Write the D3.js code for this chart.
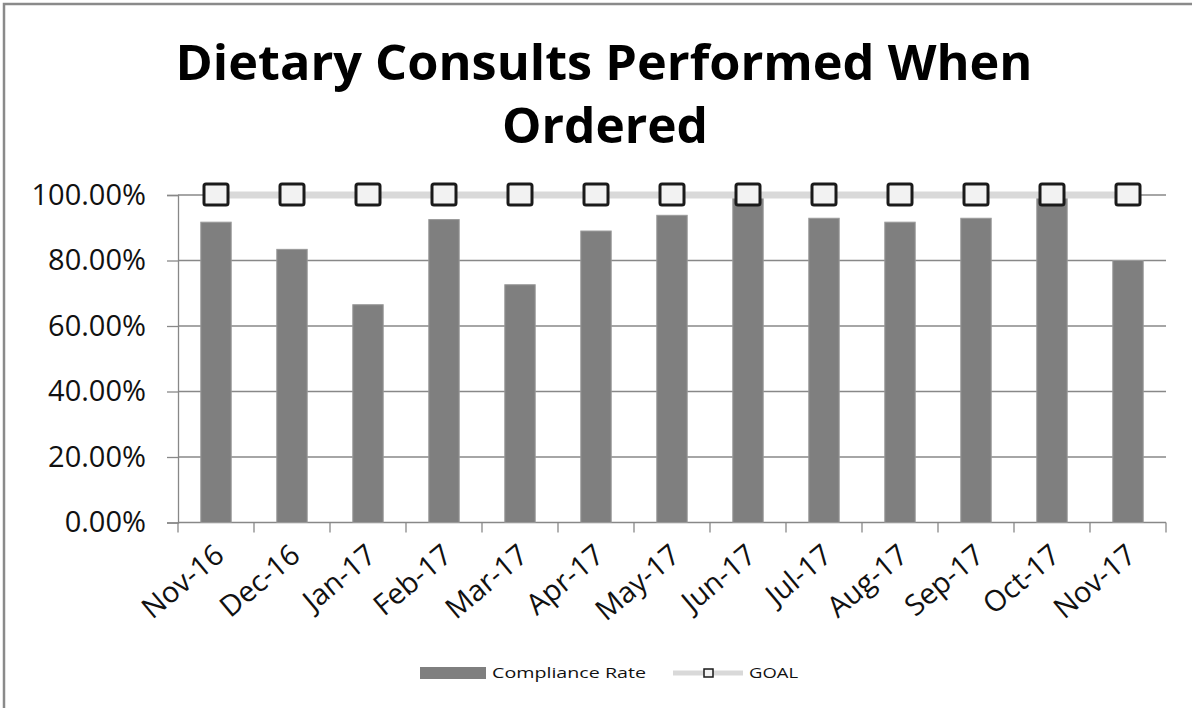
<!DOCTYPE html>
<html>
<head>
<meta charset="utf-8">
<script src="https://cdn.jsdelivr.net/npm/d3@7"></script>
<style>
  html, body { margin: 0; padding: 0; background: #fff; }
  svg { display: block; }
</style>
</head>
<body>
<svg id="chart" width="1192" height="708"></svg>
<script>
const categories = ["Nov-16","Dec-16","Jan-17","Feb-17","Mar-17","Apr-17","May-17","Jun-17","Jul-17","Aug-17","Sep-17","Oct-17","Nov-17"];
const complianceRate = [91.7, 83.4, 66.5, 92.5, 72.6, 89.0, 93.8, 100, 92.9, 91.7, 92.9, 100, 80.0];
const goal = [100, 100, 100, 100, 100, 100, 100, 100, 100, 100, 100, 100, 100];
const yTicks = [0, 20, 40, 60, 80, 100];
const titleLines = ["Dietary Consults Performed When", "Ordered"];
const seriesNames = ["Compliance Rate", "GOAL"];

const svg = d3.select("#chart");
const W = 1192, H = 708;
const plot = { left: 178, right: 1166, top: 195, bottom: 522.5 };

svg.append("rect").attr("x", 0).attr("y", 0).attr("width", W).attr("height", H).attr("fill", "#fff");
// outer chart border (only top/left visible)
svg.append("rect").attr("x", 4).attr("y", 4).attr("width", W + 20).attr("height", H + 20)
  .attr("fill", "none").attr("stroke", "#8a8a8a").attr("stroke-width", 2.5);

// title
const titleG = svg.append("g").attr("font-family", "'Open Sans', 'Noto Sans', sans-serif")
  .attr("font-weight", "bold").attr("fill", "#000").attr("text-anchor", "middle");
titleG.append("text").attr("x", 604).attr("y", 80).attr("font-size", 49)
  .attr("textLength", 857).attr("lengthAdjust", "spacingAndGlyphs").text(titleLines[0]);
titleG.append("text").attr("x", 605).attr("y", 143).attr("font-size", 49)
  .attr("textLength", 206).attr("lengthAdjust", "spacingAndGlyphs").text(titleLines[1]);

const x = d3.scaleBand().domain(categories).range([plot.left, plot.right]).paddingInner(0.6).paddingOuter(0.3);
const y = d3.scaleLinear().domain([0, 100]).range([plot.bottom, plot.top]);
const step = x.step();
const cx = d => x(d) + x.bandwidth() / 2;

// gridlines
svg.append("g").selectAll("line").data(yTicks).join("line")
  .attr("x1", plot.left).attr("x2", plot.right)
  .attr("y1", d => y(d)).attr("y2", d => y(d))
  .attr("stroke", "#888").attr("stroke-width", 1.3);

// y axis
const yAxis = svg.append("g").attr("transform", `translate(${plot.left},0)`)
  .call(d3.axisLeft(y).tickValues(yTicks).tickSize(11).tickPadding(21).tickFormat(d => d.toFixed(2) + "%"));
yAxis.select(".domain").attr("stroke", "#888").attr("stroke-width", 1.3);
yAxis.selectAll(".tick line").attr("stroke", "#888").attr("stroke-width", 1.3);
yAxis.selectAll("text").attr("font-family", "'Open Sans', 'Noto Sans', sans-serif")
  .attr("font-size", 29).attr("fill", "#111");

// x axis: tick marks at category boundaries
const boundaries = d3.range(categories.length + 1).map(i => plot.left + i * step);
svg.append("g").selectAll("line").data(boundaries).join("line")
  .attr("x1", d => d).attr("x2", d => d)
  .attr("y1", plot.bottom).attr("y2", plot.bottom + 10)
  .attr("stroke", "#888").attr("stroke-width", 1.3);

// x labels
svg.append("g").selectAll("text").data(categories).join("text")
  .attr("transform", d => `translate(${cx(d) - 4},${plot.bottom + 19}) rotate(-40)`)
  .attr("text-anchor", "end").attr("dy", "0.75em")
  .attr("font-family", "'Open Sans', 'Noto Sans', sans-serif").attr("font-size", 29).attr("fill", "#111")
  .text(d => d);

// bars
svg.append("g").selectAll("rect").data(categories).join("rect")
  .attr("x", d => x(d)).attr("width", x.bandwidth())
  .attr("y", (d, i) => y(complianceRate[i]))
  .attr("height", (d, i) => y(0) - y(complianceRate[i]))
  .attr("fill", "#7f7f7f").attr("stroke", "#9a9a9a").attr("stroke-width", 1);

// goal line
const line = d3.line().x((d, i) => cx(categories[i])).y(d => y(d));
svg.append("path").datum(goal).attr("d", line)
  .attr("fill", "none").attr("stroke", "#d9d9d9").attr("stroke-width", 7);

// goal markers
svg.append("g").selectAll("rect").data(goal).join("rect")
  .attr("x", (d, i) => cx(categories[i]) - 12).attr("y", d => y(d) - 11)
  .attr("width", 24).attr("height", 21).attr("rx", 2)
  .attr("fill", "#f2f2f2").attr("stroke", "#1a1a1a").attr("stroke-width", 3);

// legend
const lg = svg.append("g").attr("font-family", "'Open Sans', 'Noto Sans', sans-serif").attr("font-size", 15).attr("fill", "#111");
lg.append("rect").attr("x", 420).attr("y", 667).attr("width", 66).attr("height", 12).attr("fill", "#7f7f7f");
lg.append("text").attr("x", 492).attr("y", 673).attr("dy", "0.35em").attr("textLength", 154).attr("lengthAdjust", "spacingAndGlyphs").text(seriesNames[0]);
lg.append("line").attr("x1", 673).attr("x2", 743).attr("y1", 673).attr("y2", 673).attr("stroke", "#d9d9d9").attr("stroke-width", 5);
lg.append("rect").attr("x", 704).attr("y", 669).attr("width", 9).attr("height", 8).attr("fill", "#f2f2f2").attr("stroke", "#1a1a1a").attr("stroke-width", 1.5);
lg.append("text").attr("x", 749).attr("y", 673).attr("dy", "0.35em").attr("textLength", 49).attr("lengthAdjust", "spacingAndGlyphs").text(seriesNames[1]);
</script>
</body>
</html>
